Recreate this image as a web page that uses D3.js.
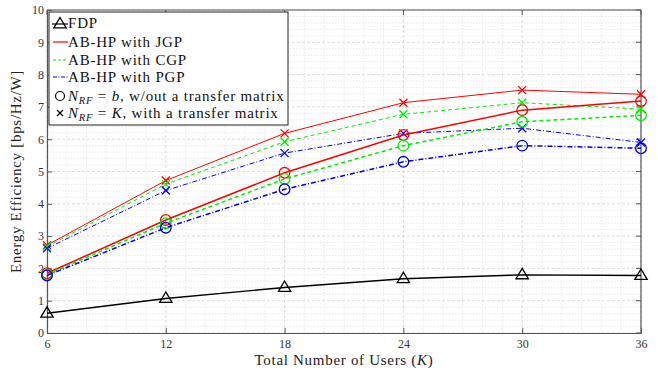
<!DOCTYPE html>
<html><head><meta charset="utf-8">
<script src="https://cdn.jsdelivr.net/npm/d3@7"></script>
<style>body{margin:0;background:#fff}svg{display:block}</style>
</head><body><svg id="c" width="658" height="372" font-family="'Liberation Serif', serif"></svg>
<script>
const users = [6, 12, 18, 24, 30, 36];
const fdp = [0.61, 1.07, 1.41, 1.68, 1.80, 1.78];
const jgpCircle = [1.85, 3.50, 4.96, 6.13, 6.90, 7.18];
const jgpCross = [2.72, 4.72, 6.18, 7.13, 7.52, 7.39];
const cgpCircle = [1.81, 3.40, 4.77, 5.80, 6.54, 6.74];
const cgpCross = [2.68, 4.61, 5.92, 6.77, 7.13, 6.93];
const pgpCircle = [1.78, 3.26, 4.45, 5.30, 5.80, 5.72];
const pgpCross = [2.62, 4.41, 5.57, 6.18, 6.34, 5.90];
const xTicks = [6, 12, 18, 24, 30, 36];
const yTicks = [0,1,2,3,4,5,6,7,8,9,10];

const FONT = "'Liberation Serif', serif";
const svg = d3.select("#c");
const L=47, R=641, T=10, B=333;
const x = d3.scaleLinear().domain([6,36]).range([L,R]);
const y = d3.scaleLinear().domain([0,10]).range([B,T]);

const g = svg.append("g");
d3.range(7,36).filter(v=>v%6!==0).forEach(v=>{
  g.append("line").attr("x1",x(v)).attr("x2",x(v)).attr("y1",T).attr("y2",B)
   .attr("stroke","#e4e4e4").attr("stroke-width",0.8).attr("stroke-dasharray","1.5,1.5");
});
d3.range(0,50).map(i=>i*0.2).filter(v=>Math.abs(v-Math.round(v))>1e-6).forEach(v=>{
  g.append("line").attr("x1",L).attr("x2",R).attr("y1",y(v)).attr("y2",y(v))
   .attr("stroke","#e4e4e4").attr("stroke-width",0.8).attr("stroke-dasharray","1.5,1.5");
});
xTicks.forEach(v=>{
  g.append("line").attr("x1",x(v)).attr("x2",x(v)).attr("y1",T).attr("y2",B)
   .attr("stroke","#d4d4d4").attr("stroke-width",0.8).attr("stroke-dasharray","3,2");
});
yTicks.forEach(v=>{
  g.append("line").attr("x1",L).attr("x2",R).attr("y1",y(v)).attr("y2",y(v))
   .attr("stroke","#d4d4d4").attr("stroke-width",0.8).attr("stroke-dasharray","3,2");
});

const ax = svg.append("g").attr("transform",`translate(0,${B})`)
  .call(d3.axisBottom(x).tickValues(xTicks).tickSizeInner(-5).tickSizeOuter(0).tickPadding(6));
const ay = svg.append("g").attr("transform",`translate(${L},0)`)
  .call(d3.axisLeft(y).tickValues(yTicks).tickSizeInner(-5).tickSizeOuter(0).tickPadding(3));
[ax,ay].forEach(a=>{
  a.attr("font-family",FONT).attr("font-size",12);
  a.select(".domain").attr("stroke","#555").attr("stroke-width",1.2);
  a.selectAll(".tick line").attr("stroke","#555").attr("stroke-width",1);
  a.selectAll("text").attr("fill","#333");
});
svg.append("line").attr("x1",L).attr("x2",R).attr("y1",T).attr("y2",T).attr("stroke","#555").attr("stroke-width",1.2);
svg.append("line").attr("x1",R).attr("x2",R).attr("y1",T).attr("y2",B).attr("stroke","#555").attr("stroke-width",1.2);
xTicks.forEach(v=>svg.append("line").attr("x1",x(v)).attr("x2",x(v)).attr("y1",T).attr("y2",T+5).attr("stroke","#555"));
yTicks.forEach(v=>svg.append("line").attr("x1",R).attr("x2",R-5).attr("y1",y(v)).attr("y2",y(v)).attr("stroke","#555"));

const series = [
  {d:fdp, c:"#000", dash:null, w:1.4, m:"tri"},
  {d:jgpCross, c:"#ff0000", dash:null, w:1, m:"x"},
  {d:cgpCross, c:"#00ee00", dash:"4,3", w:1, m:"x"},
  {d:pgpCross, c:"#0000ff", dash:"5,2,1,2", w:1, m:"x"},
  {d:jgpCircle, c:"#ff0000", dash:null, w:1.5, m:"o"},
  {d:cgpCircle, c:"#00ee00", dash:"4,3", w:1.5, m:"o"},
  {d:pgpCircle, c:"#0000dd", dash:"5,2,1,2", w:1.5, m:"o"},
];
const line = d3.line().x((d,i)=>x(users[i])).y(d=>y(d));
function marker(sel, type, cx, cy, c){
  if(type==="o") sel.append("circle").attr("cx",cx).attr("cy",cy).attr("r",5.3).attr("fill","none").attr("stroke",c).attr("stroke-width",1.3);
  else if(type==="x"){
    const s=4;
    sel.append("path").attr("d",`M${cx-s},${cy-s}L${cx+s},${cy+s}M${cx-s},${cy+s}L${cx+s},${cy-s}`).attr("stroke",c).attr("stroke-width",1.3);
  } else {
    const s=6.5;
    sel.append("path").attr("d",`M${cx},${cy-s}L${cx+s*0.95},${cy+s*0.6}L${cx-s*0.95},${cy+s*0.6}Z`).attr("fill","none").attr("stroke",c).attr("stroke-width",1.3);
  }
}
series.forEach(s=>{
  svg.append("path").datum(s.d).attr("d",line).attr("fill","none").attr("stroke",s.c)
    .attr("stroke-width",s.w).attr("stroke-dasharray",s.dash);
  const mg = svg.append("g");
  s.d.forEach((v,i)=>marker(mg,s.m,x(users[i]),y(v),s.c));
});

const lg = svg.append("g").attr("font-family",FONT);
lg.append("rect").attr("x",49).attr("y",12).attr("width",239).attr("height",113).attr("fill","#fff").attr("stroke","#222").attr("stroke-width",1);
const fs=15;
const rows=[23,42,60,77,96,113];
function ltext(yy, parts){
  const t=lg.append("text").attr("x",68).attr("y",yy+5).attr("font-size",fs).attr("fill","#111").attr("letter-spacing",0.8);
  parts.forEach(p=>{const ts=t.append("tspan").text(p.t); if(p.i) ts.attr("font-style","italic"); if(p.sub) ts.attr("font-size",10.5).attr("dy",3); if(p.up) ts.attr("dy",-3);});
}
marker(lg,"tri",60,rows[0]+1,"#000");
lg.append("line").attr("x1",52).attr("x2",68).attr("y1",rows[0]+1).attr("y2",rows[0]+1).attr("stroke","#000").attr("stroke-width",1.2);
ltext(rows[0],[{t:"FDP"}]);
[["#ff0000",null,"JGP"],["#00ee00","3,2","CGP"],["#0000ff","4,1.5,1,1.5","PGP"]].forEach((s,i)=>{
  lg.append("line").attr("x1",53).attr("x2",68).attr("y1",rows[i+1]).attr("y2",rows[i+1]).attr("stroke",s[0]).attr("stroke-width",1.2).attr("stroke-dasharray",s[1]);
  ltext(rows[i+1],[{t:"AB-HP with "+s[2]}]);
});
lg.append("circle").attr("cx",60).attr("cy",rows[4]).attr("r",4.5).attr("fill","none").attr("stroke","#000").attr("stroke-width",1.2);
ltext(rows[4],[{t:"N",i:true},{t:"RF",i:true,sub:true},{t:" = ",up:true},{t:"b",i:true},{t:", w/out a transfer matrix"}]);
lg.append("path").attr("d",`M57,${rows[5]-3}L63,${rows[5]+3}M57,${rows[5]+3}L63,${rows[5]-3}`).attr("stroke","#000").attr("stroke-width",1.2);
ltext(rows[5],[{t:"N",i:true},{t:"RF",i:true,sub:true},{t:" = ",up:true},{t:"K",i:true},{t:", with a transfer matrix"}]);

svg.append("text").attr("x",(L+R)/2).attr("y",365).attr("text-anchor","middle").attr("font-size",15).attr("letter-spacing",0.7).attr("fill","#222")
  .call(t=>{t.append("tspan").text("Total Number of Users (");t.append("tspan").attr("font-style","italic").text("K");t.append("tspan").text(")");});
svg.append("text").attr("transform",`translate(21,${(T+B)/2}) rotate(-90)`).attr("text-anchor","middle").attr("font-size",15).attr("letter-spacing",0.7).attr("fill","#222")
  .text("Energy Efficiency [bps/Hz/W]");
</script></body></html>
